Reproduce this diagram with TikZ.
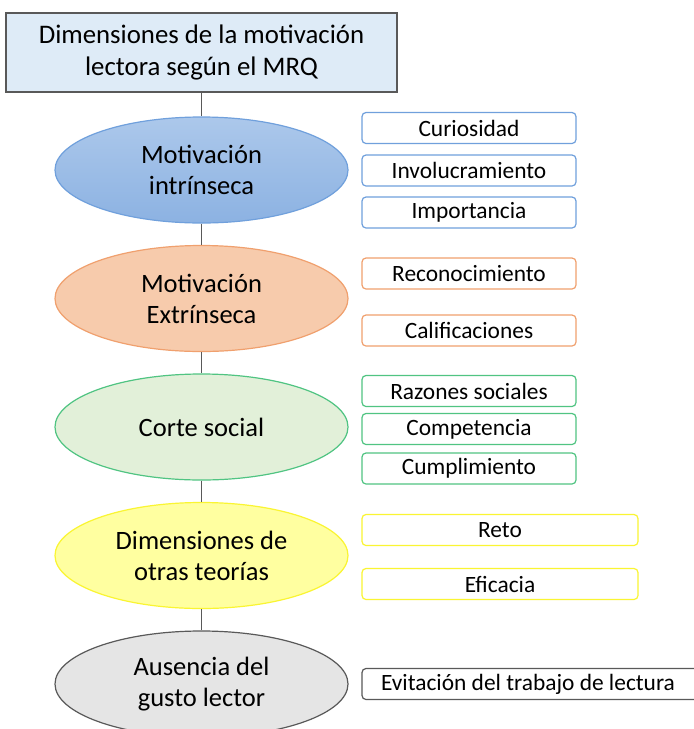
\documentclass[tikz,border=0pt]{standalone}
\usepackage{fontspec}
\setmainfont{Carlito}
\usepackage{tikz}
\usetikzlibrary{shapes.geometric, positioning, calc}

\definecolor{titlefill}{RGB}{222,235,247}
\definecolor{darkline}{RGB}{89,89,89}
\definecolor{blueline}{RGB}{112,160,220}
\definecolor{bluetop}{RGB}{172,200,235}
\definecolor{bluebot}{RGB}{140,178,226}
\definecolor{orangeline}{RGB}{240,160,110}
\definecolor{orangefill}{RGB}{247,203,172}
\definecolor{greenline}{RGB}{80,196,130}
\definecolor{greenfill}{RGB}{226,240,217}
\definecolor{yellowline}{RGB}{250,245,50}
\definecolor{yellowfill}{RGB}{255,255,160}
\definecolor{grayfill}{RGB}{229,229,229}

\tikzset{
  title/.style={draw=darkline, fill=titlefill, line width=1.3pt,
    minimum width=391pt, minimum height=79pt, align=center,
    font=\fontsize{26.8}{32}\selectfont},
  dimension/.style={ellipse, line width=1.2pt, minimum width=293pt,
    minimum height=106pt, align=center, inner sep=0pt,
    font=\fontsize{26.5}{31}\selectfont},
  item/.style={draw, rounded corners=4pt, fill=white, line width=1.2pt,
    minimum width=214pt, minimum height=31pt, inner sep=0pt,
    font=\fontsize{23.4}{27}\selectfont},
  link/.style={draw=darkline, line width=1.4pt}
}

\begin{document}
\begin{tikzpicture}[x=1pt, y=-1pt, node distance=128.5pt, on grid]
    \clip (0,0) rectangle (694,729);
    \fill[white] (0,0) rectangle (694,729);

    \node[title] (mrq) at (201.5,52.5) {Dimensiones de la motivación\\lectora según el MRQ};

    \node[dimension, draw=blueline, top color=bluetop, bottom color=bluebot]
        (intr) at (201.5,170) {Motivación\\intrínseca};
    \node[dimension, draw=orangeline, fill=orangefill] (extr) [below=of intr] {Motivación\\Extrínseca};
    \node[dimension, draw=greenline, fill=greenfill] (social) [below=of extr] {Corte social};
    \node[dimension, draw=yellowline, fill=yellowfill] (otras) [below=of social] {Dimensiones de\\otras teorías};
    \node[dimension, draw=darkline, fill=grayfill] (ausencia) [below=of otras] {Ausencia del\\gusto lector};

    \node[item, draw=blueline] (curio) at (469,128) {Curiosidad};
    \node[item, draw=blueline] (invol) at (469,170.5) {Involucramiento};
    \node[item, draw=blueline] (impor) at (469,212.5) {Importancia};

    \node[item, draw=orangeline] (recon) at (469,273.5) {Reconocimiento};
    \node[item, draw=orangeline] (calif) at (469,330.5) {Calificaciones};

    \node[item, draw=greenline] (razon) at (469,391) {Razones sociales};
    \node[item, draw=greenline] (compe) at (469,429) {Competencia};
    \node[item, draw=greenline] (cumpl) at (469,468.5) {Cumplimiento};

    \node[item, draw=yellowline, minimum width=276pt] (reto) at (500,530) {Reto};
    \node[item, draw=yellowline, minimum width=276pt] (efica) at (500,584) {Eficacia};

    \node[item, draw=darkline, minimum width=340pt] (evita) at (532,684)
        {\makebox[330pt][l]{\hspace*{14pt}Evitación del trabajo de lectura}};

    \path[link]
    (mrq) -- (intr)
    (intr) -- (extr)
    (extr) -- (social)
    (social) -- (otras)
    (otras) -- (ausencia);
\end{tikzpicture}
\end{document}
